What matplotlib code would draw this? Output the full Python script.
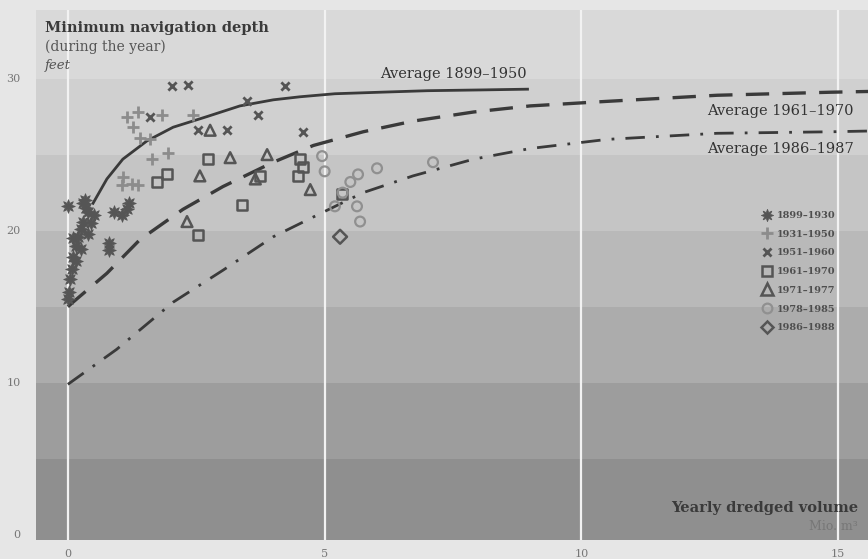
import matplotlib
matplotlib.use("Agg")
import matplotlib.pyplot as plt
from matplotlib.lines import Line2D

# --- data ---
# scatter groups (x = yearly dredged volume, Mio. m3 ; y = min. navigation depth, feet)
x_1899 = [0.0, 0.0, 0.02, 0.05, 0.08, 0.1, 0.15, 0.2, 0.25, 0.3, 0.33, 0.35, 0.4, 0.45,
          0.5, 0.4, 0.25, 0.15, 0.8, 0.8, 1.05, 1.15, 1.2, 0.9, 0.3, 0.1]
y_1899 = [21.6, 15.5, 16.0, 16.8, 17.5, 18.3, 19.0, 19.6, 20.1, 20.6, 22.0, 21.5, 21.2, 20.5,
          21.0, 19.8, 18.8, 18.0, 18.7, 19.2, 21.0, 21.4, 21.8, 21.2, 21.8, 19.5]
x_1931 = [1.15, 1.37, 1.83, 1.27, 1.4, 1.6, 1.95, 1.63, 1.05, 1.37, 1.07, 2.44, 1.25]
y_1931 = [27.5, 27.8, 27.6, 26.8, 26.1, 26.0, 25.1, 24.7, 23.0, 23.0, 23.5, 27.6, 23.1]
x_1951 = [2.03, 2.34, 4.23, 3.49, 3.7, 2.53, 3.1, 4.58, 1.6]
y_1951 = [29.5, 29.6, 29.5, 28.5, 27.6, 26.6, 26.6, 26.5, 27.5]
x_1961 = [2.73, 1.93, 3.39, 2.53, 4.52, 4.48, 3.74, 1.73, 4.58, 5.34]
y_1961 = [24.7, 23.7, 21.7, 19.7, 24.7, 23.6, 23.6, 23.2, 24.2, 22.4]
x_1971 = [2.77, 3.16, 3.88, 2.57, 3.65, 2.32, 4.72]
y_1971 = [26.6, 24.8, 25.0, 23.6, 23.4, 20.6, 22.7]
x_1978 = [4.95, 5.0, 6.02, 5.65, 5.5, 5.2, 5.63, 5.69, 7.11, 5.35]
y_1978 = [24.9, 23.9, 24.1, 23.7, 23.2, 21.6, 21.6, 20.6, 24.5, 22.5]
x_1986 = [5.3]
y_1986 = [19.6]

# average curves
avg1_x = [0.49, 0.76, 1.07, 1.54, 2.05, 2.71, 3.35, 4.0, 4.52, 5.2, 6.08, 7.0, 8.03, 8.95]
avg1_y = [21.8, 23.4, 24.7, 25.9, 26.8, 27.5, 28.2, 28.6, 28.8, 29.0, 29.1, 29.2, 29.25, 29.3]
avg2_x = [0.0, 0.1, 0.76, 1.4, 2.24, 3.02, 4.0, 4.78, 5.75, 6.72, 7.9, 9.0, 10.5, 12.64, 14.85, 15.6]
avg2_y = [15.0, 15.3, 17.2, 19.4, 21.4, 22.9, 24.5, 25.6, 26.5, 27.2, 27.8, 28.2, 28.5, 28.9, 29.1, 29.15]
avg3_x = [0.0, 0.95, 2.05, 3.02, 4.0, 4.78, 5.75, 6.72, 7.9, 9.0, 10.5, 12.64, 14.85, 15.6]
avg3_y = [9.9, 12.2, 15.3, 17.4, 19.6, 20.9, 22.5, 23.6, 24.7, 25.4, 26.0, 26.4, 26.5, 26.55]

band_edges = [-2, 5, 10, 15, 20, 25, 30, 40]
band_colors = ["#8f8f8f", "#9d9d9d", "#acacac", "#b9b9b9", "#c5c5c5", "#d0d0d0", "#d9d9d9"]
x_ticks = [0, 5, 10, 15]
y_ticks = [0, 10, 20, 30]

serif = "DejaVu Serif"
dark = "#4e4e4e"

fig = plt.figure(figsize=(8.68, 5.59), dpi=100, facecolor="#e6e6e6")
ax = fig.add_axes([0.0415, 0.034, 0.9585, 0.948])
ax.set_xlim(-0.62, 15.58)
ax.set_ylim(-0.33, 34.5)
ax.set_facecolor(band_colors[0])

# background bands
for i in range(len(band_colors)):
    ax.axhspan(band_edges[i], band_edges[i + 1], color=band_colors[i], lw=0, zorder=0)
for xv in x_ticks:
    ax.axvline(xv, color="#f2f2f2", lw=1.6, zorder=1)

# curves
ax.plot(avg1_x, avg1_y, color="#3a3a3a", lw=2.0, zorder=3)
ax.plot(avg2_x, avg2_y, color="#3a3a3a", lw=2.4, dashes=(7, 4), zorder=3)
ax.plot(avg3_x, avg3_y, color="#3a3a3a", lw=2.0, dashes=(7, 4, 1, 4), zorder=3)

# scatter groups
ms = 50
ax.scatter(x_1899, y_1899, marker=(8, 1, 0), s=95, color="#555555", lw=0.6, zorder=4)
ax.scatter(x_1931, y_1931, marker="+", s=70, color="#8c8c8c", lw=2.0, zorder=4)
ax.scatter(x_1951, y_1951, marker="x", s=35, color="#555555", lw=2.0, zorder=4)
ax.scatter(x_1961, y_1961, marker="s", s=ms, facecolors="none", edgecolors="#555555", lw=1.8, zorder=4)
ax.scatter(x_1971, y_1971, marker="^", s=ms + 10, facecolors="none", edgecolors="#555555", lw=1.8, zorder=4)
ax.scatter(x_1978, y_1978, marker="o", s=ms, facecolors="none", edgecolors="#909090", lw=1.6, zorder=4)
ax.scatter(x_1986, y_1986, marker="D", s=ms, facecolors="none", edgecolors="#555555", lw=1.8, zorder=4)

# legend
handles = [
    Line2D([], [], ls="none", marker=(8, 1, 0), ms=9, color="#555555", mew=0.5),
    Line2D([], [], ls="none", marker="+", ms=8, color="#8c8c8c", mew=2.0),
    Line2D([], [], ls="none", marker="x", ms=6, color="#555555", mew=2.0),
    Line2D([], [], ls="none", marker="s", ms=7, mfc="none", mec="#555555", mew=1.8),
    Line2D([], [], ls="none", marker="^", ms=8, mfc="none", mec="#555555", mew=1.8),
    Line2D([], [], ls="none", marker="o", ms=7, mfc="none", mec="#909090", mew=1.6),
    Line2D([], [], ls="none", marker="D", ms=6.5, mfc="none", mec="#555555", mew=1.8),
]
labels = ["1899–1930", "1931–1950", "1951–1960", "1961–1970", "1971–1977", "1978–1985", "1986–1988"]
leg = ax.legend(handles, labels, loc="upper left", bbox_to_anchor=(762 / 868, 1 - 211 / 559),
                bbox_transform=fig.transFigure, frameon=False, handlelength=1.0,
                handletextpad=0.5, labelspacing=1.0, borderpad=0, borderaxespad=0,
                prop={"family": serif, "weight": "bold", "size": 7})
for t in leg.get_texts():
    t.set_color(dark)

# curve labels
ax.text(7.5, 29.85, "Average 1899–1950", family=serif, fontsize=10.5, color="#333333",
        ha="center", va="bottom", zorder=5)
ax.text(15.3, 28.35, "Average 1961–1970", family=serif, fontsize=10.5, color="#333333",
        ha="right", va="top", zorder=5)
ax.text(15.3, 25.85, "Average 1986–1987", family=serif, fontsize=10.5, color="#333333",
        ha="right", va="top", zorder=5)

# axis titles
fig.text(45 / 868, 1 - 28 / 559, "Minimum navigation depth", family=serif, weight="bold",
         fontsize=10.5, color="#3a3a3a", va="center")
fig.text(45 / 868, 1 - 47 / 559, "(during the year)", family=serif, fontsize=10,
         color="#555555", va="center")
fig.text(45 / 868, 1 - 65 / 559, "feet", family=serif, style="italic", fontsize=9.5,
         color="#555555", va="center")
fig.text(858 / 868, 1 - 508 / 559, "Yearly dredged volume", family=serif, weight="bold",
         fontsize=10.5, color="#3a3a3a", ha="right", va="center")
fig.text(858 / 868, 1 - 527 / 559, "Mio. m³", family=serif, fontsize=9,
         color="#777777", ha="right", va="center")

# ticks
for yv in y_ticks:
    ax.text(-0.62 - 0.3, yv, str(yv), family=serif, fontsize=8, color="#777777",
            ha="right", va="center", clip_on=False)
for xv in x_ticks:
    ax.text(xv, -0.33 - 0.6, str(xv), family=serif, fontsize=8, color="#777777",
            ha="center", va="top", clip_on=False)
ax.set_xticks([])
ax.set_yticks([])
for s in ax.spines.values():
    s.set_visible(False)

fig.savefig("out.png", dpi=100, facecolor=fig.get_facecolor())
